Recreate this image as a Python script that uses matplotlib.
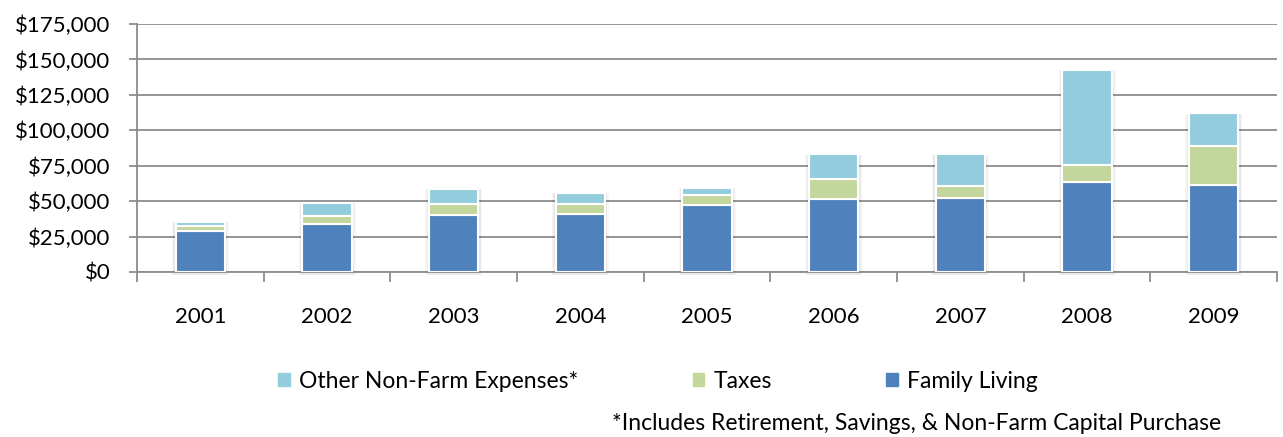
import matplotlib
matplotlib.use("Agg")
import matplotlib.pyplot as plt
import numpy as np
from matplotlib.patches import Patch
from matplotlib.ticker import FuncFormatter

years = ["2001", "2002", "2003", "2004", "2005", "2006", "2007", "2008", "2009"]
family_living = [29100, 33650, 40000, 40700, 47000, 51300, 52400, 63300, 61400]
taxes = [3600, 6050, 8000, 7300, 7100, 14100, 8300, 12200, 27700]
other_non_farm = [2800, 9200, 10600, 8000, 5400, 17600, 22300, 67200, 22900]

series_labels = ["Family Living", "Taxes", "Other Non-Farm Expenses*"]
colors = ["#4F81BD", "#C3D69B", "#93CDDD"]
footnote = "*Includes Retirement, Savings, & Non-Farm Capital Purchase"

plt.rcParams['font.family'] = ['Lato', 'DejaVu Sans']

fig = plt.figure(figsize=(12.83, 4.37), dpi=100)
ax = fig.add_axes([137/1283, 1-272/437, (1277-137)/1283, (272-24)/437])

x = np.arange(len(years))
width = 0.39
fl = np.array(family_living)
tx = np.array(taxes)
ot = np.array(other_non_farm)
total = fl + tx + ot

# soft glow / shadow around bars
for extra, alpha in [(0.06, 0.035), (0.035, 0.05)]:
    ax.bar(x, total + 1500, width + extra, bottom=-1800, color="#000000", alpha=alpha,
           zorder=2, linewidth=0, clip_on=False)
ax.bar(x, fl, width, color=colors[0], edgecolor="white", linewidth=1.5, zorder=3)
ax.bar(x, tx, width, bottom=fl, color=colors[1], edgecolor="white", linewidth=1.5, zorder=3)
ax.bar(x, ot, width, bottom=fl + tx, color=colors[2], edgecolor="white", linewidth=1.5, zorder=3)

ax.set_xlim(-0.5, len(years) - 0.5)
ax.set_ylim(0, 175000)
ax.set_yticks(np.arange(0, 175001, 25000))
ax.yaxis.set_major_formatter(FuncFormatter(lambda v, p: "${:,.0f}".format(v)))
ax.grid(axis="y", color="#8C8C8C", linewidth=1.3, zorder=1)
ax.set_axisbelow(True)

ax.set_xticks(np.arange(-0.5, len(years), 1.0))
ax.set_xticklabels([])
ax.set_xticks(x, minor=True)
ax.set_xticklabels(years, minor=True)
ax.tick_params(axis="x", which="major", length=7, width=1.3, color="#8C8C8C", direction="out")
ax.tick_params(axis="x", which="minor", length=0, pad=25, labelsize=16, labelcolor="#000000")
ax.tick_params(axis="y", length=6, width=1.3, color="#8C8C8C", pad=13, labelsize=16)

for s in ["top", "right"]:
    ax.spines[s].set_visible(False)
for s in ["left", "bottom"]:
    ax.spines[s].set_color("#8C8C8C")
    ax.spines[s].set_linewidth(1.3)

handles = [Patch(color=colors[2]), Patch(color=colors[1]), Patch(color=colors[0])]
labels = [series_labels[2], series_labels[1], series_labels[0]]
fig.legend(handles, labels, loc="center", bbox_to_anchor=(658/1283, 1-381/437), ncol=3,
           frameon=False, fontsize=16.5, handlelength=0.5, handleheight=0.5, handletextpad=0.4,
           columnspacing=5.0)

fig.text(917/1283, 1-424/437, footnote, ha="center", va="center", fontsize=16.5)

fig.savefig("out.png", dpi=100)
